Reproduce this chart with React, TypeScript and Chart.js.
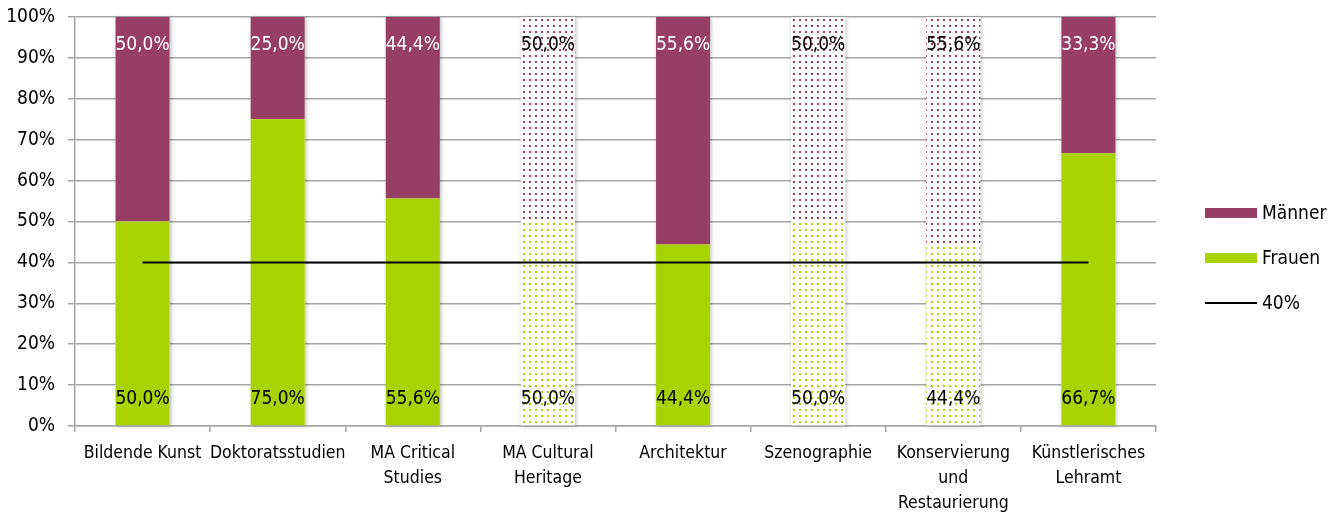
import React, { useEffect, useRef } from 'react';
import { Chart, registerables } from 'chart.js';

Chart.register(...registerables);

const categories: (string | string[])[] = [
  'Bildende Kunst',
  'Doktoratsstudien',
  ['MA Critical', 'Studies'],
  ['MA Cultural', 'Heritage'],
  'Architektur',
  'Szenographie',
  ['Konservierung', 'und', 'Restaurierung'],
  ['Künstlerisches', 'Lehramt'],
];
const frauen = [50.0, 75.0, 55.6, 50.0, 44.4, 50.0, 44.4, 66.7];
const maenner = [50.0, 25.0, 44.4, 50.0, 55.6, 50.0, 55.6, 33.3];
const dotted = [false, false, false, true, false, true, true, false];
const referenceLine = [40, 40, 40, 40, 40, 40, 40, 40];
const legendLabels = ['Männer', 'Frauen', '40%'];

const MAENNER_COLOR = '#963E64';
const FRAUEN_COLOR = '#A8D300';
const GRID_COLOR = '#A6A6A6';
const FONT = '"Liberation Sans Narrow", "DejaVu Sans Condensed", Roboto, sans-serif';

function makePattern(color: string): CanvasPattern | string {
  const c = document.createElement('canvas');
  c.width = 6;
  c.height = 6;
  const x = c.getContext('2d');
  if (!x) return color;
  x.fillStyle = '#ffffff';
  x.fillRect(0, 0, 6, 6);
  x.fillStyle = color;
  x.fillRect(1, 1, 2, 2);
  return x.createPattern(c, 'repeat') || color;
}

const fmt = (v: number) => v.toFixed(1).replace('.', ',') + '%';

const shadowPlugin = {
  id: 'barShadow',
  beforeDatasetsDraw(chart: any) {
    const ctx = chart.ctx;
    const low = chart.getDatasetMeta(0).data;
    const high = chart.getDatasetMeta(1).data;
    ctx.save();
    ctx.shadowColor = 'rgba(0,0,0,0.28)';
    ctx.shadowBlur = 4;
    ctx.shadowOffsetX = 1;
    ctx.shadowOffsetY = 1;
    ctx.fillStyle = '#ffffff';
    low.forEach((el: any, i: number) => {
      const top = high[i].y;
      const w = el.width;
      ctx.fillRect(el.x - w / 2, top, w, el.base - top);
    });
    ctx.restore();
  },
};

const valueLabelPlugin = {
  id: 'valueLabels',
  afterDatasetsDraw(chart: any) {
    const ctx = chart.ctx;
    ctx.save();
    ctx.font = `19px ${FONT}`;
    ctx.textAlign = 'center';
    ctx.textBaseline = 'middle';
    [0, 1].forEach((di) => {
      const meta = chart.getDatasetMeta(di);
      const data = chart.data.datasets[di].data as number[];
      meta.data.forEach((el: any, i: number) => {
        let y: number;
        if (di === 0) {
          y = el.base - 26;
          ctx.fillStyle = '#000000';
        } else {
          y = el.y + 28;
          ctx.fillStyle = dotted[i] ? '#000000' : '#ffffff';
        }
        ctx.fillText(fmt(data[i]), el.x, y);
      });
    });
    ctx.restore();
  },
};

const legendPlugin = {
  id: 'sideLegend',
  afterDraw(chart: any) {
    const ctx = chart.ctx;
    const x0 = chart.chartArea.right + 49;
    const ys = [213, 258, 303];
    ctx.save();
    ctx.font = `19px ${FONT}`;
    ctx.textBaseline = 'middle';
    ctx.textAlign = 'left';
    legendLabels.forEach((lab, i) => {
      const y = ys[i];
      if (i === 0 || i === 1) {
        ctx.fillStyle = i === 0 ? MAENNER_COLOR : FRAUEN_COLOR;
        ctx.fillRect(x0, y - 5, 52, 10);
      } else {
        ctx.strokeStyle = '#000000';
        ctx.lineWidth = 2;
        ctx.beginPath();
        ctx.moveTo(x0, y);
        ctx.lineTo(x0 + 52, y);
        ctx.stroke();
      }
      ctx.fillStyle = '#000000';
      ctx.fillText(lab, x0 + 57, y + 1);
    });
    ctx.restore();
  },
};

export default function App() {
  const ref = useRef<HTMLCanvasElement | null>(null);

  useEffect(() => {
    document.body.style.margin = '0';
    if (!ref.current) return;
    const mPattern = makePattern(MAENNER_COLOR);
    const fPattern = makePattern(FRAUEN_COLOR);
    const chart = new Chart(ref.current, {
      type: 'bar',
      data: {
        labels: categories,
        datasets: [
          {
            type: 'bar',
            label: 'Frauen',
            data: frauen,
            backgroundColor: dotted.map((d) => (d ? fPattern : FRAUEN_COLOR)) as any,
            stack: 'a',
            order: 2,
            categoryPercentage: 1,
            barPercentage: 0.4,
          },
          {
            type: 'bar',
            label: 'Männer',
            data: maenner,
            backgroundColor: dotted.map((d) => (d ? mPattern : MAENNER_COLOR)) as any,
            stack: 'a',
            order: 2,
            categoryPercentage: 1,
            barPercentage: 0.4,
          },
          {
            type: 'line',
            label: '40%',
            data: referenceLine,
            borderColor: '#000000',
            borderWidth: 2,
            pointRadius: 0,
            stack: 'line',
            order: 0,
          } as any,
        ],
      },
      options: {
        animation: false,
        responsive: true,
        maintainAspectRatio: false,
        layout: { padding: { top: 17, right: 182, left: 0, bottom: 0 } },
        plugins: { legend: { display: false }, tooltip: { enabled: false } },
        scales: {
          x: {
            stacked: true,
            grid: {
              offset: true,
              drawOnChartArea: false,
              drawTicks: true,
              tickLength: 6,
              color: GRID_COLOR,
              lineWidth: 1.5,
            },
            border: { color: GRID_COLOR, width: 1.5 },
            ticks: {
              color: '#000000',
              font: { family: FONT, size: 17.5, lineHeight: 1.43 },
              padding: 9,
              maxRotation: 0,
              autoSkip: false,
            },
            afterFit(scale: any) {
              scale.height = 86;
              scale.paddingLeft = 0;
              scale.paddingRight = 0;
            },
          },
          y: {
            stacked: true,
            min: 0,
            max: 100,
            grid: { color: GRID_COLOR, lineWidth: 1.5, tickLength: 7 },
            border: { color: GRID_COLOR, width: 1.5 },
            ticks: {
              stepSize: 10,
              color: '#000000',
              font: { family: FONT, size: 19 },
              padding: 13,
              callback: (v: any) => v + '%',
            },
            afterFit(scale: any) {
              scale.width = 75;
              scale.paddingTop = 0;
              scale.paddingBottom = 0;
            },
          },
        },
      },
      plugins: [shadowPlugin, valueLabelPlugin, legendPlugin],
    });
    return () => chart.destroy();
  }, []);

  return (
    <div style={{ width: 1338, height: 512, position: 'relative' }}>
      <canvas ref={ref} />
    </div>
  );
}
